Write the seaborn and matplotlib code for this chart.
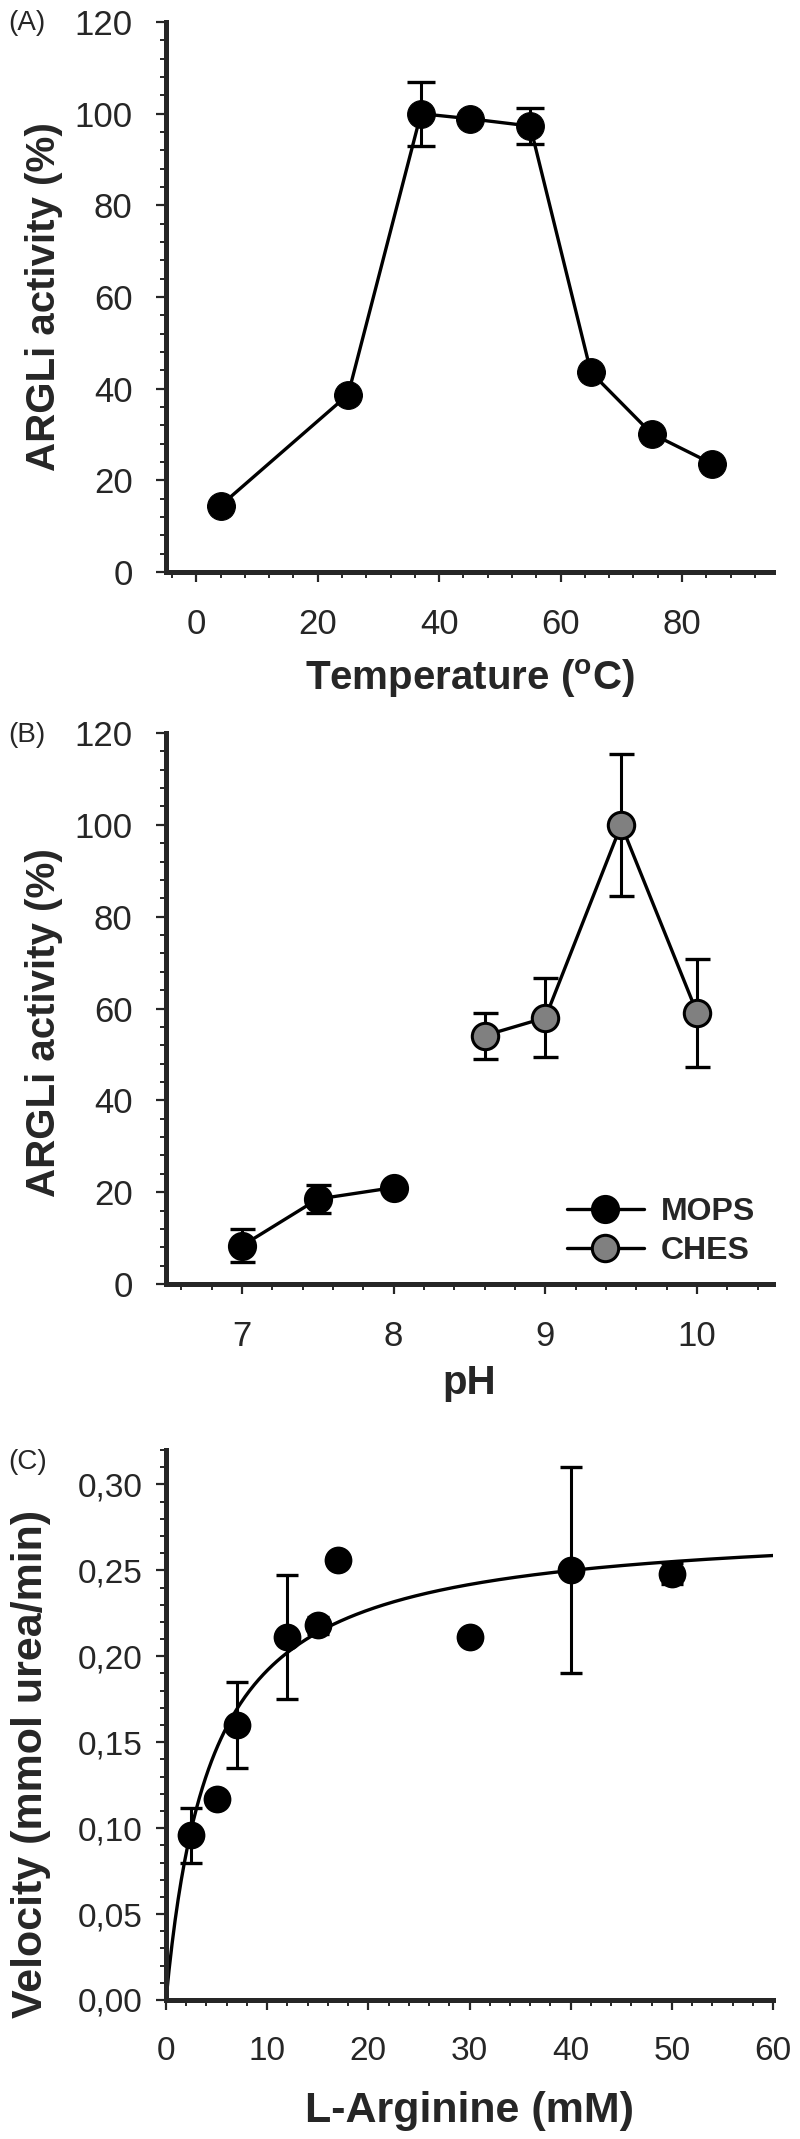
#!/usr/bin/env python3
"""ARGLi activity vs temperature, pH and L-arginine (three stacked panels)."""

import numpy as np
import pandas as pd
import matplotlib
matplotlib.use("Agg")
import matplotlib.pyplot as plt
from matplotlib.ticker import MultipleLocator, FuncFormatter
import seaborn as sns

sns.set_theme(style="ticks")
plt.rcParams["font.family"] = ["Liberation Sans", "DejaVu Sans"]
plt.rcParams["mathtext.fontset"] = "custom"
plt.rcParams["mathtext.rm"] = "Liberation Sans:bold"

# (A) temperature
temp_c = [4, 25, 37, 45, 55, 65, 75, 85]
temp_act = [14.5, 38.7, 100.0, 98.9, 97.3, 43.6, 30.2, 23.6]
temp_err = [0, 0, 7.0, 0, 4.0, 0, 0, 0]

# (B) pH, two buffers
ph_mops = [7.0, 7.5, 8.0]
mops_act = [8.3, 18.5, 21.0]
mops_err = [3.6, 3.0, 0]
ph_ches = [8.6, 9.0, 9.5, 10.0]
ches_act = [54.1, 58.0, 100.0, 59.0]
ches_err = [5.0, 8.6, 15.5, 11.7]

# (C) substrate saturation
arg_mm = [2.5, 5, 7, 12, 15, 17, 30, 40, 50]
velocity = [0.096, 0.117, 0.160, 0.211, 0.218, 0.256, 0.211, 0.250, 0.248]
velocity_err = [0.016, 0, 0.025, 0.036, 0.005, 0, 0, 0.060, 0.006]
# Michaelis-Menten fit
vmax = 0.278
km = 4.5

SPINE_W = 3.6
MS = 20
TICK_FS = 25


def style_axes(ax, tick_fs=TICK_FS, ypad=17):
    sns.despine(ax=ax)
    for side in ("left", "bottom"):
        ax.spines[side].set_linewidth(SPINE_W)
    ax.tick_params(which="major", direction="out", length=7, width=1.6,
                   labelsize=tick_fs)
    ax.tick_params(which="minor", direction="out", length=4, width=1.4)
    ax.tick_params(axis="x", which="major", pad=19)
    ax.tick_params(axis="y", which="major", pad=ypad)
    ax.grid(False)


fig = plt.figure(figsize=(8, 21.39), dpi=100)
H = 2139.0


def add_ax(top_px, bottom_px):
    return fig.add_axes([166 / 800, 1 - bottom_px / H,
                         (773 - 166) / 800, (bottom_px - top_px) / H])


# ---- panel A
ax = add_ax(22, 572)
df_t = pd.DataFrame({"temp": temp_c, "act": temp_act})
ax.errorbar(temp_c, temp_act, yerr=temp_err, fmt="none", ecolor="black",
            elinewidth=2.2, capsize=10, capthick=2.4, zorder=2)
sns.lineplot(data=df_t, x="temp", y="act", ax=ax, color="black", lw=2.4,
             marker="o", markersize=MS, markeredgecolor="black",
             markerfacecolor="black", zorder=3)
ax.set_xlim(-5, 95)
ax.set_ylim(0, 120)
ax.set_xticks([0, 20, 40, 60, 80])
ax.xaxis.set_minor_locator(MultipleLocator(4))
ax.yaxis.set_major_locator(MultipleLocator(20))
ax.yaxis.set_minor_locator(MultipleLocator(4))
style_axes(ax)
ax.set_xlabel(r"Temperature ($\mathregular{^o}$C)", fontsize=29,
              fontweight="bold")
ax.set_ylabel("ARGLi activity (%)", fontsize=29, fontweight="bold")
ax.xaxis.set_label_coords(0.5, -0.155)
ax.yaxis.set_label_coords(-0.17, 0.5)
fig.text(8 / 800, 1 - 23 / H, "(A)", fontsize=20, va="center", ha="left")

# ---- panel B
ax = add_ax(733, 1284)
df_m = pd.DataFrame({"ph": ph_mops, "act": mops_act})
df_c = pd.DataFrame({"ph": ph_ches, "act": ches_act})
ax.errorbar(ph_mops, mops_act, yerr=mops_err, fmt="none", ecolor="black",
            elinewidth=2.2, capsize=9, capthick=2.4, zorder=2)
ax.errorbar(ph_ches, ches_act, yerr=ches_err, fmt="none", ecolor="black",
            elinewidth=2.2, capsize=9, capthick=2.4, zorder=2)
sns.lineplot(data=df_m, x="ph", y="act", ax=ax, color="black", lw=2.4,
             marker="o", markersize=MS * 0.95, markeredgecolor="black",
             markerfacecolor="black", markeredgewidth=2, label="MOPS",
             zorder=3)
sns.lineplot(data=df_c, x="ph", y="act", ax=ax, color="black", lw=2.4,
             marker="o", markersize=MS * 0.95, markeredgecolor="black",
             markerfacecolor="#808080", markeredgewidth=2.2, label="CHES",
             zorder=3)
ax.set_xlim(6.5, 10.5)
ax.set_ylim(0, 120)
ax.xaxis.set_major_locator(MultipleLocator(1))
ax.xaxis.set_minor_locator(MultipleLocator(0.2))
ax.yaxis.set_major_locator(MultipleLocator(20))
ax.yaxis.set_minor_locator(MultipleLocator(4))
style_axes(ax)
ax.set_xlabel("pH", fontsize=29, fontweight="bold")
ax.set_ylabel("ARGLi activity (%)", fontsize=29, fontweight="bold")
ax.xaxis.set_label_coords(0.5, -0.145)
ax.yaxis.set_label_coords(-0.17, 0.475)
ax.legend(loc="lower right", frameon=False,
          prop={"weight": "bold", "size": 23}, handlelength=2.4,
          handletextpad=0.55, labelspacing=0.3, borderaxespad=0.15)
fig.text(8 / 800, 1 - 735 / H, "(B)", fontsize=20, va="center", ha="left")

# ---- panel C
ax = add_ax(1450, 2000)
xs = np.linspace(0, 60, 400)
df_fit = pd.DataFrame({"s": xs, "v": vmax * xs / (km + xs)})
df_v = pd.DataFrame({"s": arg_mm, "v": velocity})
sns.lineplot(data=df_fit, x="s", y="v", ax=ax, color="black", lw=2.4,
             zorder=2)
ax.errorbar(arg_mm, velocity, yerr=velocity_err, fmt="none", ecolor="black",
            elinewidth=2.2, capsize=8, capthick=2.4, zorder=2)
sns.scatterplot(data=df_v, x="s", y="v", ax=ax, color="black", s=MS ** 2,
                edgecolor="black", linewidth=0, zorder=3)
ax.set_xlim(0, 60)
ax.set_ylim(0, 0.32)
ax.xaxis.set_major_locator(MultipleLocator(10))
ax.xaxis.set_minor_locator(MultipleLocator(2))
ax.set_yticks([0, 0.05, 0.10, 0.15, 0.20, 0.25, 0.30])
ax.yaxis.set_minor_locator(MultipleLocator(0.01))
ax.yaxis.set_major_formatter(FuncFormatter(lambda v, p: f"{v:.2f}".replace(".", ",")))
style_axes(ax, tick_fs=24, ypad=10)
ax.set_xlabel("L-Arginine (mM)", fontsize=31, fontweight="bold")
ax.set_ylabel("Velocity (mmol urea/min)", fontsize=31, fontweight="bold")
ax.xaxis.set_label_coords(0.5, -0.165)
ax.yaxis.set_label_coords(-0.19, 0.43)
fig.text(8 / 800, 1 - 1462 / H, "(C)", fontsize=20, va="center", ha="left")

plt.savefig("out.png", dpi=100)
plt.close()
